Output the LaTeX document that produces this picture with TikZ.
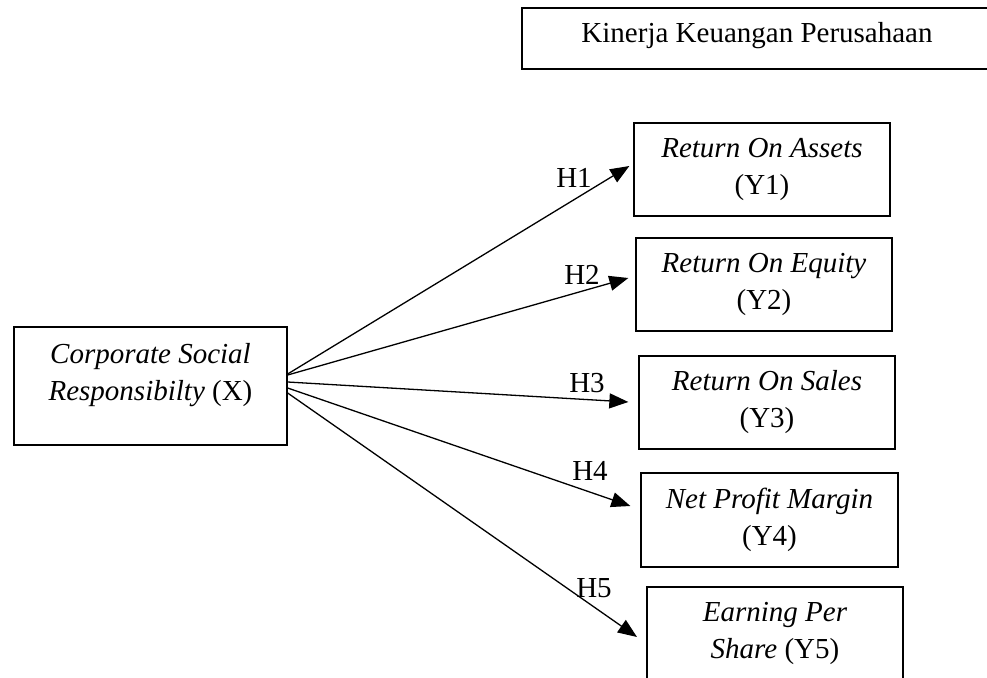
\documentclass[tikz,border=0pt]{standalone}
\usepackage{fontspec}
\setmainfont{Liberation Serif}
\usetikzlibrary{arrows.meta,calc}
\begin{document}
\begin{tikzpicture}[x=1pt,y=-1pt,
  every node/.style={font=\fontsize{29}{37}\selectfont},
  box/.style={draw, line width=1.3pt, inner sep=0pt, align=center},
  frame/.style={draw, line width=1.3pt},
  link/.style={line width=1.3pt, -{Triangle[length=19pt,width=15pt]}},
  hyp/.style={inner sep=0pt}]
\useasboundingbox (0,0) rectangle (987,677);
% top header box (open on the right)
\draw[frame] (987,8) -- (522,8) -- (522,69) -- (987,69);
\node (kin) at (757,36) {Kinerja Keuangan Perusahaan};
% independent variable
\node[box, minimum width=273pt, minimum height=118pt] (x) at (150.5,386) {};
\node[align=center] (xt) at (150.5,375) {\itshape Corporate Social\\\itshape Responsibilty \upshape(X)};
% dependent variables
\node[box, minimum width=256pt, minimum height=93pt] (y1) at (762,169.5) {\itshape Return On Assets\\(Y1)};
\node[box, minimum width=256pt, minimum height=93pt] (y2) at (764,284.5) {\itshape Return On Equity\\(Y2)};
\node[box, minimum width=256pt, minimum height=93pt] (y3) at (767,402.5) {\itshape Return On Sales\\(Y3)};
\node[box, minimum width=257pt, minimum height=94pt] (y4) at (769.5,520) {\itshape Net Profit Margin\\(Y4)};
\draw[frame] (647,680) -- (647,587) -- (903,587) -- (903,680);
\node[align=center] (y5) at (775,633) {\itshape Earning Per\\\itshape Share \upshape(Y5)};
\coordinate (t5) at (637,637);
% connectors
\draw[link] ($(x.east)+(0,-12)$) -- ($(y1.west)+(-4,-3.5)$);
\draw[link] ($(x.east)+(0,-11)$) -- ($(y2.west)+(-7,-6.5)$);
\draw[link] ($(x.east)+(0,-4)$) -- ($(y3.west)+(-10,-0.5)$);
\draw[link] ($(x.east)+(0,2)$) -- ($(y4.west)+(-10,-14)$);
\draw[link] ($(x.east)+(0,7)$) -- (t5);
% labels
\node[hyp] (h1) at (574,178) {H1};
\node[hyp] (h2) at (582,275) {H2};
\node[hyp] (h3) at (587,383) {H3};
\node[hyp] (h4) at (590,471) {H4};
\node[hyp] (h5) at (594,588) {H5};
\end{tikzpicture}
\end{document}
